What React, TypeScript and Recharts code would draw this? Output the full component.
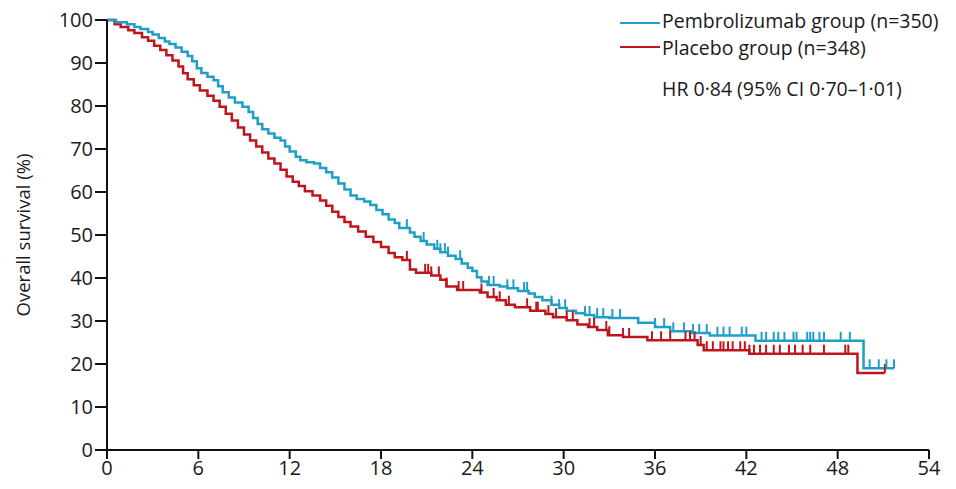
import React from 'react';
import { ComposedChart, Line, Scatter, XAxis, YAxis } from 'recharts';

// Kaplan-Meier step points [months, survival %]
const pembroTimes = [0,0.6,1.3,1.8,2.2,2.7,3.0,3.4,3.8,4.1,4.5,4.9,5.3,5.6,5.9,6.2,6.6,7.0,7.3,7.6,8.0,8.4,8.9,9.3,9.6,9.9,10.2,10.6,11.0,11.4,11.7,12.0,12.4,12.7,13.1,13.6,14.0,14.4,14.8,15.2,15.6,16.0,16.4,16.9,17.3,17.7,18.1,18.5,18.9,19.2,19.9,20.2,20.6,21.0,21.5,21.9,22.4,22.9,23.3,23.7,24.0,24.3,24.6,25.0,25.8,26.3,27.0,27.7,28.1,28.6,29.2,29.7,30.2,30.8,31.4,32.0,33.0,34.9,36.0,37.0,38.4,39.6,42.6,49.7,51.7];
const pembroSurv = [100,99.5,99.0,98.4,97.9,97.2,96.6,95.8,95.0,94.4,93.6,92.6,91.6,90.4,88.8,87.7,86.8,86.0,84.6,83.2,82.0,80.8,79.8,78.6,77.2,75.8,74.6,73.6,72.6,72.0,70.6,69.4,68.2,67.4,66.9,66.6,65.6,64.6,63.4,62.0,60.6,59.2,58.4,57.8,57.0,55.8,54.8,53.6,52.8,51.6,50.6,49.6,48.6,47.8,46.8,46.0,45.2,44.4,43.4,42.4,41.6,40.2,39.2,38.4,38.0,37.6,37.0,36.4,35.6,34.8,33.8,33.0,32.4,31.8,31.4,30.9,30.7,29.6,28.6,27.6,27.2,26.6,25.4,19.0,19.0];
const pembroCensor = [19.7,20.8,21.7,21.9,22.2,22.4,23.2,25.1,25.4,26.3,26.7,27.4,27.6,29.2,29.7,30.1,31.4,31.7,32.2,32.6,33.2,33.7,36.0,36.6,37.2,37.9,38.5,38.9,39.4,40.1,40.5,40.9,41.7,42.0,43.0,43.3,43.8,44.1,44.5,45.1,45.3,46.0,46.2,46.4,46.8,47.1,48.2,48.8,50.1,50.7,51.2,51.7];

const placeboTimes = [0,0.5,0.9,1.4,1.8,2.3,2.7,3.1,3.5,3.9,4.3,4.7,5.0,5.3,5.7,6.1,6.6,7.0,7.4,7.8,8.2,8.6,9.0,9.4,9.8,10.2,10.6,11.0,11.4,11.8,12.2,12.6,13.0,13.5,14.0,14.4,14.8,15.2,15.6,16.0,16.5,17.0,17.5,18.0,18.5,18.9,19.4,19.9,20.3,21.3,21.9,22.3,23.0,24.5,25.0,25.6,26.2,26.8,27.8,28.8,29.3,30.2,30.9,31.6,32.2,32.9,33.9,35.5,38.8,39.2,42.2,49.3,51.1];
const placeboSurv = [100,99.0,98.4,97.6,97.0,96.0,95.2,94.0,93.0,91.8,90.6,89.2,87.6,86.2,84.8,83.6,82.4,81.2,79.8,78.2,76.6,75.0,73.4,72.0,70.6,69.2,67.8,66.6,65.2,63.6,62.4,61.4,60.2,59.2,58.0,56.8,55.4,54.2,53.0,52.0,50.8,49.6,48.4,47.2,45.8,44.8,44.2,42.0,41.2,40.6,39.6,38.0,37.2,36.6,35.6,34.8,33.8,33.2,32.4,31.6,30.9,30.2,29.2,28.6,27.9,26.7,26.3,25.5,24.4,23.2,22.4,17.9,17.9];
const placeboCensor = [19.7,20.9,21.1,21.3,21.8,22.3,23.1,23.4,24.6,25.4,25.8,26.4,27.6,28.2,28.3,29.0,29.5,30.2,30.6,31.7,32.0,32.8,33.0,33.9,34.3,35.8,36.4,37.0,38.0,38.3,38.6,39.0,39.4,39.8,40.3,40.5,40.8,41.1,41.6,41.9,42.2,42.5,42.9,43.3,43.8,44.2,44.8,45.2,45.7,46.2,47.1,48.5,48.7,51.1];

const xTicks = [0, 6, 12, 18, 24, 30, 36, 42, 48, 54];
const yTicks = [0, 10, 20, 30, 40, 50, 60, 70, 80, 90, 100];

const BLUE = '#1f9fc8';
const RED = '#c0141d';
const TEXT = '#1a1a1a';
const FONT = '"Open Sans", sans-serif';

const toSeries = (times: number[], surv: number[]) => times.map((t, i) => ({ t, s: surv[i] }));
const survAt = (times: number[], surv: number[], t: number) => {
  let v = surv[0];
  for (let i = 0; i < times.length; i++) if (times[i] <= t) v = surv[i];
  return v;
};
const toCensor = (c: number[], times: number[], surv: number[]) => c.map((t) => ({ t, s: survAt(times, surv, t) }));

const pembroData = toSeries(pembroTimes, pembroSurv);
const placeboData = toSeries(placeboTimes, placeboSurv);
const pembroTicks = toCensor(pembroCensor, pembroTimes, pembroSurv);
const placeboTicks = toCensor(placeboCensor, placeboTimes, placeboSurv);

const censorShape = (color: string) => (props: any) => {
  const { cx, cy } = props;
  if (cx == null || cy == null) return <g />;
  return <line x1={cx} y1={cy} x2={cx} y2={cy - 9} stroke={color} strokeWidth={2} />;
};

const legendText: React.CSSProperties = { position: 'absolute', left: 662, fontSize: 19.5, lineHeight: '27px', color: TEXT, whiteSpace: 'nowrap' };

export default function App() {
  return (
    <div style={{ position: 'absolute', left: 0, top: 0, width: 956, height: 489, background: '#fff', fontFamily: FONT }}>
      <ComposedChart width={956} height={489} margin={{ top: 20, right: 27, bottom: 9, left: 47 }}>
        <XAxis
          type="number"
          dataKey="t"
          domain={[0, 54]}
          ticks={xTicks}
          allowDataOverflow
          stroke="#111"
          strokeWidth={2}
          tickSize={9}
          height={30}
          tick={{ fill: TEXT, fontSize: 20, fontFamily: FONT }}
        />
        <YAxis
          type="number"
          dataKey="s"
          domain={[0, 100]}
          ticks={yTicks}
          stroke="#111"
          strokeWidth={2}
          tickSize={12}
          width={60}
          tick={{ fill: TEXT, fontSize: 20, fontFamily: FONT }}
        />
        <Line data={placeboData} dataKey="s" type="stepAfter" stroke={RED} strokeWidth={2.5} dot={false} isAnimationActive={false} />
        <Line data={pembroData} dataKey="s" type="stepAfter" stroke={BLUE} strokeWidth={2.5} dot={false} isAnimationActive={false} />
        <Scatter data={placeboTicks} dataKey="s" shape={censorShape(RED)} isAnimationActive={false} />
        <Scatter data={pembroTicks} dataKey="s" shape={censorShape(BLUE)} isAnimationActive={false} />
      </ComposedChart>
      <div style={{ position: 'absolute', left: 22, top: 235, transform: 'translate(-50%, -50%) rotate(-90deg)', whiteSpace: 'nowrap', fontSize: 18.5, color: TEXT }}>
        Overall survival (%)
      </div>
      <div style={{ position: 'absolute', left: 620, top: 22, width: 40, height: 2, background: BLUE }} />
      <div style={{ ...legendText, top: 7 }}>Pembrolizumab group (n=350)</div>
      <div style={{ position: 'absolute', left: 620, top: 46, width: 40, height: 2, background: RED }} />
      <div style={{ ...legendText, top: 34 }}>Placebo group (n=348)</div>
      <div style={{ ...legendText, top: 75 }}>HR 0·84 (95% CI 0·70–1·01)</div>
    </div>
  );
}
